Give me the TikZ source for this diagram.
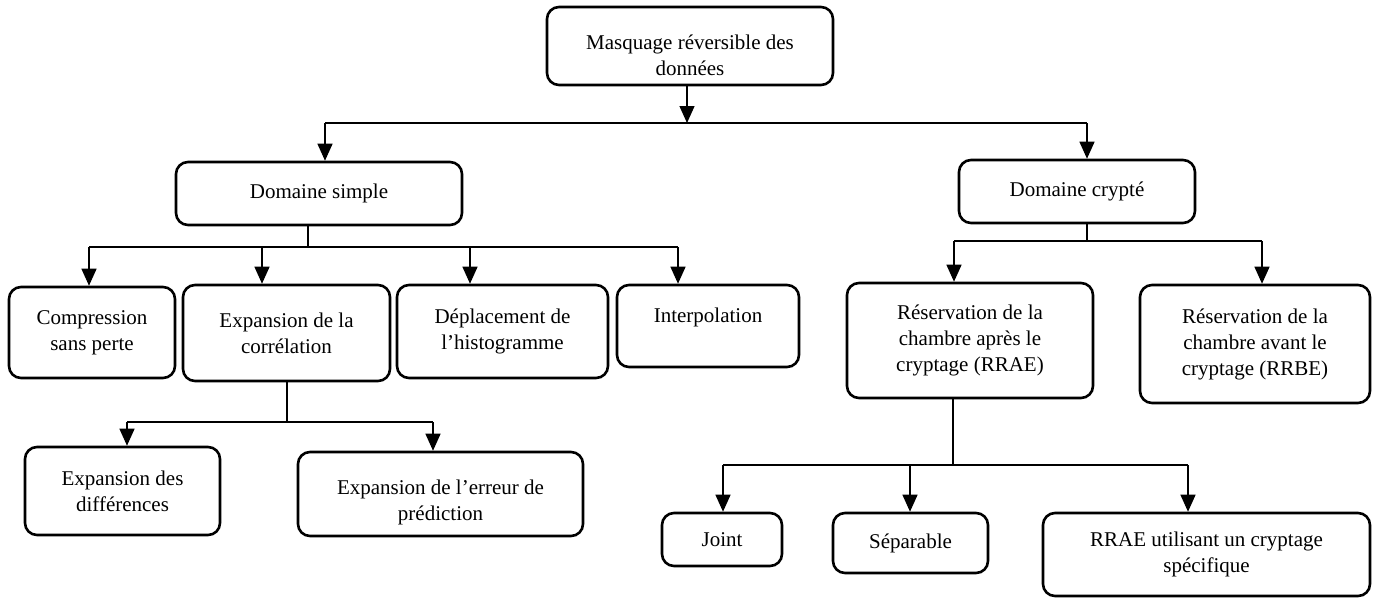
\documentclass[tikz,border=0pt]{standalone}
\usepackage{fontspec}
\setmainfont{Liberation Serif}
\usetikzlibrary{arrows.meta}
\begin{document}
\begin{tikzpicture}[x=1pt,y=-1pt,
  box/.style={draw=black, line width=2.6pt, rounded corners=12pt, align=center,
              inner sep=4pt, font=\fontsize{21}{26}\selectfont},
  txt/.style={align=center, inner sep=0pt, font=\fontsize{21}{26}\selectfont},
  link/.style={draw=black, line width=1.3pt},
  arr/.style={link, -{Triangle[width=15pt,length=17pt]}},
]
\fill[white] (0,0) rectangle (1375,598);
\useasboundingbox (0,0) rectangle (1375,598);

% ---- boxes ----
\node[box, minimum width=286pt, minimum height=78pt,
      label={[txt,yshift=-9pt]center:Masquage réversible des\\données}] (root) at (690,46) {};

\node[box, minimum width=286pt, minimum height=63pt] (ds) at (319,193.5) {Domaine simple};
\node[box, minimum width=236pt, minimum height=63pt] (dc) at (1077,191.5) {Domaine crypté};

\node[box, minimum width=166pt, minimum height=91pt] (comp) at (92,332.5) {Compression\\sans perte};
\node[box, minimum width=207pt, minimum height=96pt] (expc) at (286.5,333) {Expansion de la\\corrélation};
\node[box, minimum width=211pt, minimum height=93pt] (dep) at (502.5,331.5) {Déplacement de\\l’histogramme};
\node[box, minimum width=182pt, minimum height=82pt,
      label={[txt,yshift=9pt]center:Interpolation}] (interp) at (708,326) {};

\node[box, minimum width=195pt, minimum height=88pt] (expd) at (122.5,491) {Expansion des\\différences};
\node[box, minimum width=285pt, minimum height=84pt,
      label={[txt,yshift=-8pt]center:Expansion de l’erreur de\\prédiction}] (expe) at (440.5,494) {};

\node[box, minimum width=246pt, minimum height=115pt] (rrae) at (970,340.5)
  {Réservation de la\\chambre après le\\cryptage (RRAE)};
\node[box, minimum width=230pt, minimum height=118pt] (rrbe) at (1255,344)
  {Réservation de la\\chambre avant le\\cryptage (RRBE)};

\node[box, minimum width=120pt, minimum height=53pt] (joint) at (722,539.5) {Joint};
\node[box, minimum width=155pt, minimum height=60pt] (sep) at (910.5,543) {Séparable};
\node[box, minimum width=327pt, minimum height=83pt] (spec) at (1206.5,554.5)
  {RRAE utilisant un cryptage\\spécifique};

% ---- bus points ----
\coordinate (r0) at (687,123);
\coordinate (r0l) at (325,123);
\coordinate (r0r) at (1087,123);

\coordinate (s0) at (308,247);
\coordinate (s1) at (89,247);
\coordinate (s2) at (262,247);
\coordinate (s3) at (470,247);
\coordinate (s4) at (678,247);

\coordinate (e0) at (287,422);
\coordinate (e1) at (127,422);
\coordinate (e2) at (433,422);

\coordinate (c0) at (1087,241);
\coordinate (c1) at (954,241);
\coordinate (c2) at (1262,241);

\coordinate (a0) at (953,465);
\coordinate (a1) at (723,465);
\coordinate (a2) at (910,465);
\coordinate (a3) at (1188,465);

% ---- connectors: root ----
\draw[arr] (r0 |- root.south) -- (r0);
\draw[link] (r0l) -- (r0r);
\draw[arr] (r0l) -- (r0l |- ds.north);
\draw[arr] (r0r) -- (r0r |- dc.north);

% ---- Domaine simple ----
\draw[link] (s0 |- ds.south) -- (s0);
\draw[link] (s1) -- (s4);
\draw[arr] (s1) -- (s1 |- comp.north);
\draw[arr] (s2) -- (s2 |- expc.north);
\draw[arr] (s3) -- (s3 |- dep.north);
\draw[arr] (s4) -- (s4 |- interp.north);

% ---- Expansion de la corrélation ----
\draw[link] (e0 |- expc.south) -- (e0);
\draw[link] (e1) -- (e2);
\draw[arr] (e1) -- (e1 |- expd.north);
\draw[arr] (e2) -- (e2 |- expe.north);

% ---- Domaine crypté ----
\draw[link] (c0 |- dc.south) -- (c0);
\draw[link] (c1) -- (c2);
\draw[arr] (c1) -- (c1 |- rrae.north);
\draw[arr] (c2) -- (c2 |- rrbe.north);

% ---- RRAE ----
\draw[link] (a0 |- rrae.south) -- (a0);
\draw[link] (a1) -- (a3);
\draw[arr] (a1) -- (a1 |- joint.north);
\draw[arr] (a2) -- (a2 |- sep.north);
\draw[arr] (a3) -- (a3 |- spec.north);
\end{tikzpicture}
\end{document}
